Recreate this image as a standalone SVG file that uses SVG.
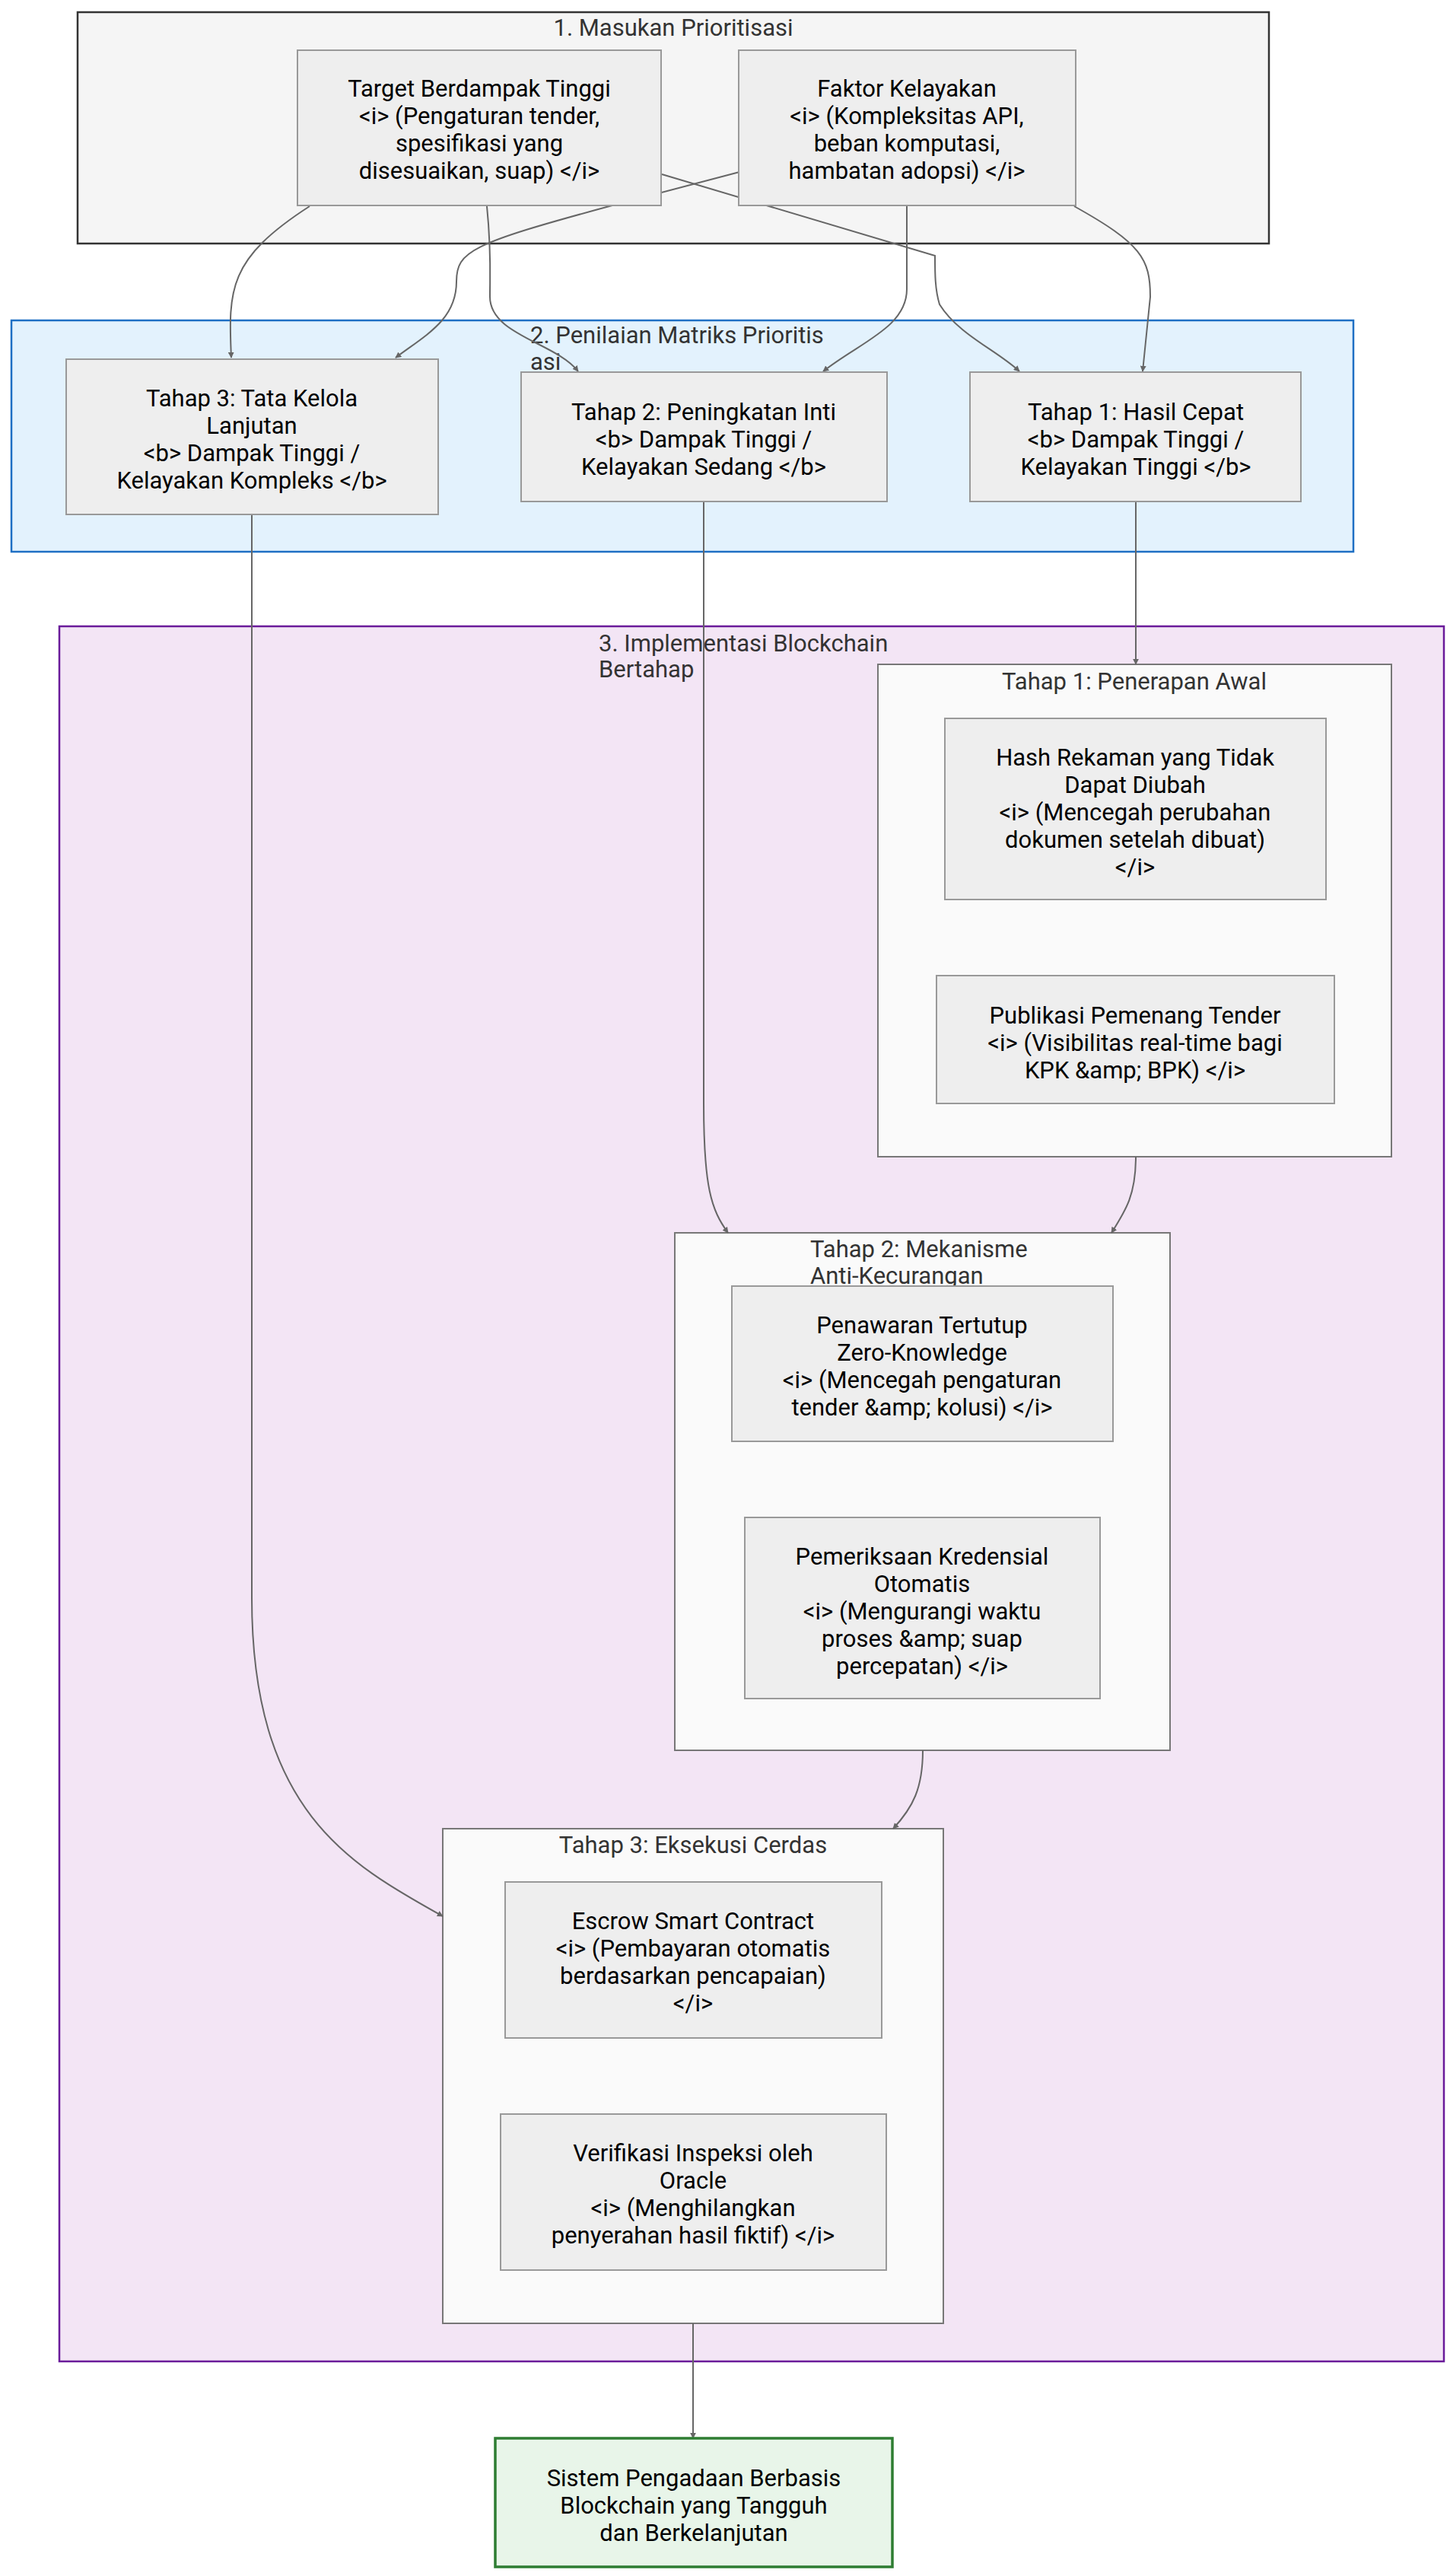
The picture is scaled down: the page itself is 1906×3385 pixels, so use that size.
<svg xmlns="http://www.w3.org/2000/svg" width="1906" height="3385" viewBox="0 0 1906 3385">
<defs>
<marker id="arr" viewBox="0 0 10 10" refX="9" refY="5" markerWidth="8" markerHeight="8" markerUnits="userSpaceOnUse" orient="auto-start-reverse"><path d="M0,0L10,5L0,10z" fill="#666"/></marker>
<style>
text{font-family:Roboto,"Liberation Sans",sans-serif;font-size:31px;fill:#000;text-anchor:middle}
.ct{fill:#333}
.cl{text-anchor:start}
.n{fill:#eeeeee;stroke:#999;stroke-width:2}
.sc{fill:#fafafa;stroke:#777;stroke-width:2}
.e{fill:none;stroke:#666;stroke-width:2;marker-end:url(#arr)}
</style>
</defs>
<rect width="1906" height="3385" fill="#fff"/>
<g id="cluster1"><rect x="102" y="16" width="1566" height="304" fill="#f5f5f5" stroke="#333" stroke-width="2.5"/><text class="ct" x="885" y="47">1. Masukan Prioritisasi</text></g>
<g id="cluster2"><rect x="15" y="421" width="1764" height="304" fill="#e3f2fd" stroke="#1e6fc4" stroke-width="2.5"/><text class="ct cl" x="697" y="451">2. Penilaian Matriks Prioritis</text><text class="ct cl" x="697" y="486">asi</text></g>
<g id="cluster3"><rect x="78" y="823" width="1820" height="2280" fill="#f3e5f5" stroke="#6a1b9a" stroke-width="2.5"/><text class="ct cl" x="787" y="856">3. Implementasi Blockchain</text><text class="ct cl" x="787" y="890">Bertahap</text></g>
<g id="sub1"><rect class="sc" x="1154" y="873" width="675" height="647"/><text class="ct" x="1491" y="906">Tahap 1: Penerapan Awal</text></g>
<g id="sub2"><rect class="sc" x="887" y="1620" width="651" height="680"/><text class="ct cl" x="1065" y="1652">Tahap 2: Mekanisme</text><text class="ct cl" x="1065" y="1687">Anti-Kecurangan</text></g>
<g id="sub3"><rect class="sc" x="582" y="2403" width="658" height="650"/><text class="ct" x="911" y="2435">Tahap 3: Eksekusi Cerdas</text></g>

<g id="connectors">
<path class="e" d="M407,271 C300,340 300,380 304,470"/>
<path class="e" d="M640,271 C646,330 644,360 644,390 C644,440 730,450 760,488"/>
<path class="e" d="M870,229 L1229,336 C1229,360 1229,380 1235,400 C1260,440 1310,460 1340,488"/>
<path class="e" d="M972,226 L801,271 C620,320 600,330 600,370 C600,420 560,440 520,470"/>
<path class="e" d="M1192,271 L1192,380 C1192,430 1130,450 1082,488"/>
<path class="e" d="M1412,271 C1500,320 1512,340 1512,390 L1502,488"/>
<path class="e" d="M331,676 L331,2100 C331,2380 460,2450 582,2518"/>
<path class="e" d="M925,659 L925,1450 C925,1560 935,1590 957,1620"/>
<path class="e" d="M1493,659 L1493,873"/>
<path class="e" d="M1493,1520 C1493,1570 1480,1590 1461,1620"/>
<path class="e" d="M1213,2300 C1213,2350 1200,2375 1174,2403"/>
<path class="e" d="M911,3053 L911,3204"/>
</g>

<g id="n_target"><rect class="n" x="391" y="66" width="478" height="204"/><text x="630" y="127">Target Berdampak Tinggi</text><text x="630" y="163">&lt;i&gt; (Pengaturan tender,</text><text x="630" y="199">spesifikasi yang</text><text x="630" y="235">disesuaikan, suap) &lt;/i&gt;</text></g>
<g id="n_faktor"><rect class="n" x="971" y="66" width="443" height="204"/><text x="1192" y="127">Faktor Kelayakan</text><text x="1192" y="163">&lt;i&gt; (Kompleksitas API,</text><text x="1192" y="199">beban komputasi,</text><text x="1192" y="235">hambatan adopsi) &lt;/i&gt;</text></g>
<g id="n_t3"><rect class="n" x="87" y="472" width="489" height="204"/><text x="331" y="534">Tahap 3: Tata Kelola</text><text x="331" y="570">Lanjutan</text><text x="331" y="606">&lt;b&gt; Dampak Tinggi /</text><text x="331" y="642">Kelayakan Kompleks &lt;/b&gt;</text></g>
<g id="n_t2"><rect class="n" x="685" y="489" width="481" height="170"/><text x="925" y="552">Tahap 2: Peningkatan Inti</text><text x="925" y="588">&lt;b&gt; Dampak Tinggi /</text><text x="925" y="624">Kelayakan Sedang &lt;/b&gt;</text></g>
<g id="n_t1"><rect class="n" x="1275" y="489" width="435" height="170"/><text x="1493" y="552">Tahap 1: Hasil Cepat</text><text x="1493" y="588">&lt;b&gt; Dampak Tinggi /</text><text x="1493" y="624">Kelayakan Tinggi &lt;/b&gt;</text></g>
<g id="n_hash"><rect class="n" x="1242" y="944" width="501" height="238"/><text x="1492" y="1006">Hash Rekaman yang Tidak</text><text x="1492" y="1042">Dapat Diubah</text><text x="1492" y="1078">&lt;i&gt; (Mencegah perubahan</text><text x="1492" y="1114">dokumen setelah dibuat)</text><text x="1492" y="1150">&lt;/i&gt;</text></g>
<g id="n_pub"><rect class="n" x="1231" y="1282" width="523" height="168"/><text x="1492" y="1345">Publikasi Pemenang Tender</text><text x="1492" y="1381">&lt;i&gt; (Visibilitas real-time bagi</text><text x="1492" y="1417">KPK &amp;amp; BPK) &lt;/i&gt;</text></g>
<g id="n_zk"><rect class="n" x="962" y="1690" width="501" height="204"/><text x="1212" y="1752">Penawaran Tertutup</text><text x="1212" y="1788">Zero-Knowledge</text><text x="1212" y="1824">&lt;i&gt; (Mencegah pengaturan</text><text x="1212" y="1860">tender &amp;amp; kolusi) &lt;/i&gt;</text></g>
<g id="n_kred"><rect class="n" x="979" y="1994" width="467" height="238"/><text x="1212" y="2056">Pemeriksaan Kredensial</text><text x="1212" y="2092">Otomatis</text><text x="1212" y="2128">&lt;i&gt; (Mengurangi waktu</text><text x="1212" y="2164">proses &amp;amp; suap</text><text x="1212" y="2200">percepatan) &lt;/i&gt;</text></g>
<g id="n_escrow"><rect class="n" x="664" y="2473" width="495" height="205"/><text x="911" y="2535">Escrow Smart Contract</text><text x="911" y="2571">&lt;i&gt; (Pembayaran otomatis</text><text x="911" y="2607">berdasarkan pencapaian)</text><text x="911" y="2643">&lt;/i&gt;</text></g>
<g id="n_oracle"><rect class="n" x="658" y="2778" width="507" height="205"/><text x="911" y="2840">Verifikasi Inspeksi oleh</text><text x="911" y="2876">Oracle</text><text x="911" y="2912">&lt;i&gt; (Menghilangkan</text><text x="911" y="2948">penyerahan hasil fiktif) &lt;/i&gt;</text></g>
<g id="n_final"><rect x="651" y="3204" width="522" height="169" fill="#e8f5e9" stroke="#2e7d32" stroke-width="3.5"/><text x="912" y="3267">Sistem Pengadaan Berbasis</text><text x="912" y="3303">Blockchain yang Tangguh</text><text x="912" y="3339">dan Berkelanjutan</text></g>
</svg>
